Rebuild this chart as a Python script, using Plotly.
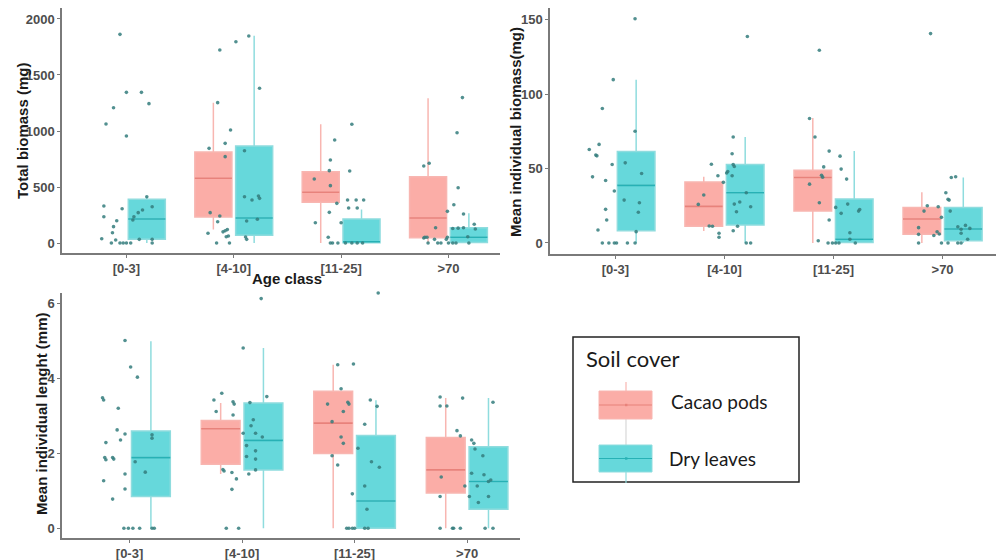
import plotly.graph_objects as go

W, H = 996, 560

CATS = ["[0-3]", "[4-10]", "[11-25]", ">70"]

# Box summaries per soil cover: lower whisker, Q1, median, Q3, upper whisker (None = no box)
tb_cacao = {"lo": [None, 120, 0, 0], "q1": [None, 232, 363, 47], "med": [None, 578, 453, 223],
            "q3": [None, 812, 637, 592], "hi": [None, 1253, 1060, 1292]}
tb_dry = {"lo": [0, 0, 0, 0], "q1": [33, 69, 3, 5], "med": [214, 223, 12, 51],
          "q3": [390, 866, 214, 137], "hi": [413, 1851, 300, 265]}

mb_cacao = {"lo": [None, 8, 0, 0], "q1": [None, 11.2, 21.4, 5.8], "med": [None, 24.6, 44, 16.1],
            "q3": [None, 40.9, 48.9, 23.9], "hi": [None, 44.4, 84, 34]}
mb_dry = {"lo": [0, 0, 0, 0], "q1": [8.2, 12.1, 0.3, 1.5], "med": [38.7, 33.7, 2.5, 9.4],
          "q3": [61.5, 52.7, 29.5, 23.9], "hi": [109.7, 71.2, 61.7, 44]}

ml_cacao = {"lo": [None, 1.45, 0, 0], "q1": [None, 1.71, 2.0, 0.94], "med": [None, 2.66, 2.81, 1.56],
            "q3": [None, 2.88, 3.66, 2.43], "hi": [None, 3.35, 4.37, 3.48]}
ml_dry = {"lo": [0, 0, 0, 0], "q1": [0.85, 1.56, 0, 0.51], "med": [1.89, 2.35, 0.73, 1.25],
          "q3": [2.6, 3.35, 2.48, 2.18], "hi": [5.0, 4.82, 3.42, 3.48]}

# Individual samples: (jitter offset within the age class, value)
tb_points = {
    "[0-3]": [(-0.06, 1863), (-0.19, 1063), (-0.12, 1208), (0.0, 1345), (0.14, 1345), (0.21, 1244),
              (0.0, 955), (-0.21, 330), (-0.21, 235), (-0.09, 199), (-0.04, 306), (-0.12, 146),
              (-0.13, 92), (-0.23, 38), (-0.10, 27), (-0.14, 0), (-0.06, 0), (-0.03, 0), (0.0, 0),
              (0.04, 0), (0.06, 205), (0.07, 235), (0.11, 271), (0.15, 295), (0.19, 413),
              (0.24, 324), (0.12, 33), (0.24, 33), (0.24, 0)],
    "[4-10]": [(-0.13, 1723), (0.02, 1797), (0.14, 1848), (-0.15, 1253), (0.24, 1381), (-0.03, 1009),
               (-0.08, 890), (-0.23, 845), (0.10, 824), (-0.08, 771), (0.10, 413), (0.17, 384),
               (0.24, 399), (0.23, 420), (-0.22, 271), (-0.13, 241), (-0.15, 190), (0.12, 196),
               (0.22, 212), (-0.24, 87), (-0.10, 100), (-0.08, 110), (-0.06, 120), (-0.05, 63),
               (-0.07, 56), (0.11, 54), (0.12, 33), (-0.16, 0), (-0.04, 0)],
    "[11-25]": [(0.10, 1060), (-0.06, 920), (-0.10, 741), (-0.11, 646), (0.08, 643), (-0.25, 571),
                (-0.10, 512), (-0.04, 354), (0.06, 384), (0.14, 384), (0.21, 384), (0.07, 313),
                (0.15, 313), (-0.11, 274), (-0.24, 181), (0.0, 181), (-0.12, 51), (-0.08, 0),
                (-0.03, 0), (0.04, 0), (0.10, 0), (0.15, 0), (0.20, 0), (-0.10, 0)],
    ">70": [(0.13, 1298), (0.08, 985), (0.09, 494), (-0.23, 688), (-0.18, 712), (0.05, 342),
            (-0.01, 283), (0.14, 259), (-0.12, 137), (0.04, 130), (0.09, 133), (0.14, 137),
            (0.25, 125), (0.24, 167), (-0.23, 45), (-0.22, 52), (-0.20, 52), (-0.13, 33),
            (-0.01, 51), (0.18, 56), (-0.19, 0), (-0.10, 0), (-0.07, 0), (0.0, 0), (0.04, 0),
            (0.07, 0), (0.19, 0), (-0.02, 33)],
}

mb_points = {
    "[0-3]": [(0.18, 150.6), (-0.02, 109.7), (-0.12, 90.3), (-0.24, 62.8), (-0.15, 66.2), (-0.18, 59),
              (-0.17, 58.5), (-0.21, 44.4), (-0.03, 52.7), (-0.09, 42), (-0.01, 34.9), (0.09, 53.8),
              (0.18, 75), (0.24, 46.7), (0.08, 28.8), (-0.09, 22.6), (-0.08, 15.4), (0.22, 27),
              (0.21, 20.6), (-0.16, 8.7), (0.19, 7.6), (-0.12, 0), (-0.06, 0), (-0.01, 0),
              (0.01, 0), (0.11, 0), (0.18, 0)],
    "[4-10]": [(0.21, 138.7), (0.08, 71.2), (0.07, 59.9), (0.08, 52.7), (0.09, 51.4), (0.02, 47),
               (0.03, 48), (-0.12, 52.9), (-0.06, 45.1), (0.07, 45.1), (-0.01, 40.7), (-0.19, 32.2),
               (-0.24, 25.9), (0.20, 33.7), (0.09, 26.1), (0.14, 27.5), (0.24, 24.3), (0.11, 21),
               (-0.14, 11.4), (-0.11, 11.2), (0.12, 11.2), (0.08, 8.2), (-0.05, 6.5), (-0.05, 3.8),
               (0.20, 0), (0.24, 0)],
    "[11-25]": [(-0.13, 129.4), (-0.22, 83.6), (-0.17, 71.2), (-0.04, 61.7), (0.06, 58.3),
                (-0.09, 51.1), (0.07, 49.6), (-0.10, 44.2), (-0.11, 45.5), (0.12, 42.9),
                (-0.22, 39.5), (-0.13, 27), (0.13, 26.1), (0.02, 23.9), (0.23, 21.4), (0.24, 22.5),
                (0.07, 19.9), (-0.04, 15.4), (0.15, 6.9), (-0.14, 1.5), (0.15, 2.5), (-0.05, 0),
                (-0.01, 0), (0.02, 0), (0.05, 0), (0.20, 0)],
    ">70": [(-0.11, 140.6), (0.03, 33.7), (0.06, 28.8), (0.05, 29.3), (0.07, 21.4), (0.08, 44),
            (0.12, 44.5), (-0.14, 25), (-0.17, 21.4), (-0.04, 24.3), (-0.01, 17.2), (-0.22, 10.3),
            (-0.22, 5.8), (-0.08, 5), (-0.05, 7.5), (-0.03, 6), (0.17, 6.5), (0.17, 9.2),
            (0.14, 10.9), (0.21, 11.8), (0.25, 9.8), (0.23, 2.5), (-0.22, 0), (-0.01, 0),
            (0.05, 0), (0.14, 0), (0.17, 0)],
}

ml_points = {
    "[0-3]": [(-0.04, 5.02), (0.01, 4.31), (0.07, 4.04), (-0.24, 3.49), (-0.23, 3.43), (-0.10, 3.21),
              (-0.11, 2.63), (-0.04, 2.52), (-0.08, 2.36), (-0.21, 2.29), (0.20, 2.5), (0.20, 2.41),
              (-0.22, 1.89), (-0.21, 1.83), (-0.15, 1.89), (-0.14, 1.85), (0.05, 1.78),
              (-0.04, 1.45), (0.14, 1.5), (-0.23, 1.27), (-0.04, 1.05), (-0.15, 0.78), (-0.05, 0),
              (-0.01, 0), (0.03, 0), (0.09, 0), (0.20, 0), (0.22, 0)],
    "[4-10]": [(0.17, 6.14), (0.01, 4.82), (-0.18, 3.61), (-0.25, 3.43), (-0.08, 3.38), (-0.07, 3.32),
               (0.22, 3.52), (-0.23, 3.12), (-0.08, 3.03), (0.07, 3.36), (0.10, 2.9), (0.08, 2.74),
               (0.01, 2.54), (0.12, 2.54), (0.18, 2.44), (0.04, 2.21), (0.12, 2.07), (0.04, 1.92),
               (0.12, 1.85), (0.12, 1.56), (-0.17, 1.57), (-0.16, 1.53), (-0.09, 1.49), (0.06, 1.45),
               (-0.05, 1.32), (-0.09, 1.04), (-0.14, 0), (-0.03, 0)],
    "[11-25]": [(0.21, 6.29), (-0.15, 4.37), (-0.01, 4.39), (-0.12, 3.73), (-0.24, 3.32),
                (-0.06, 3.37), (-0.05, 3.32), (0.14, 3.43), (0.20, 3.26), (-0.10, 3.12),
                (-0.20, 2.85), (0.09, 2.78), (-0.12, 2.44), (-0.10, 2.27), (0.03, 2.14),
                (-0.20, 1.94), (-0.15, 1.69), (0.15, 1.78), (0.22, 1.63), (0.09, 1.13),
                (-0.02, 0.92), (0.11, 0.51), (-0.07, 0), (-0.05, 0), (-0.02, 0), (0.0, 0),
                (0.09, 0), (0.12, 0)],
    ">70": [(-0.24, 3.51), (-0.24, 3.27), (-0.18, 3.27), (-0.04, 3.48), (0.23, 3.37), (-0.09, 2.61),
            (-0.06, 2.47), (0.04, 2.36), (0.06, 2.27), (0.07, 2.12), (0.14, 1.94), (0.04, 1.47),
            (0.15, 1.43), (-0.23, 1.37), (0.21, 1.29), (0.19, 1.25), (-0.02, 1.13), (0.09, 1.13),
            (0.02, 0.85), (0.19, 0.85), (-0.24, 0.85), (0.10, 0.69), (-0.24, 0), (-0.13, 0),
            (-0.12, 0), (-0.06, 0), (0.16, 0), (0.23, 0)],
}

# Styling
DODGE = 0.19        # half distance between the two soil-cover boxes
BOX_W = 0.345       # box width in category units
STYLE = {
    "Cacao pods": {"fill": "#fbada7", "edge": "#f8b6b1", "median": "#e8827b"},
    "Dry leaves": {"fill": "#66d8db", "edge": "#8fdcde", "median": "#27b1b5"},
}
POINT_COLOR = "rgba(52,125,125,0.85)"
TICK_FONT = dict(family="Liberation Sans, Arial, sans-serif", size=13, color="#4d4d4d", weight="bold")
AXIS_LINE = "#7a7a7a"

fig = go.Figure()


def add_boxes(stats, group, sign, xa, ya):
    st = STYLE[group]
    idx = [i for i, v in enumerate(stats["q1"]) if v is not None]
    pos = [i + sign * DODGE for i in idx]
    fig.add_trace(go.Box(
        x=pos,
        lowerfence=[stats["lo"][i] for i in idx],
        q1=[stats["q1"][i] for i in idx],
        median=[stats["med"][i] for i in idx],
        q3=[stats["q3"][i] for i in idx],
        upperfence=[stats["hi"][i] for i in idx],
        width=BOX_W, whiskerwidth=0, boxpoints=False,
        fillcolor=st["fill"], line=dict(color=st["edge"], width=1.5),
        name=group, showlegend=False, hoverinfo="skip",
        xaxis=xa, yaxis=ya,
    ))
    # darker median bar drawn over each box
    mx, my = [], []
    for i, p in zip(idx, pos):
        mx += [p - BOX_W / 2, p + BOX_W / 2, None]
        my += [stats["med"][i], stats["med"][i], None]
    fig.add_trace(go.Scatter(x=mx, y=my, mode="lines", line=dict(color=st["median"], width=1.6),
                             showlegend=False, hoverinfo="skip", xaxis=xa, yaxis=ya))


def add_points(points, xa, ya):
    xs, ys = [], []
    for k, cat in enumerate(CATS):
        for off, val in points[cat]:
            xs.append(k + off)
            ys.append(val)
    fig.add_trace(go.Scatter(x=xs, y=ys, mode="markers", cliponaxis=False,
                             marker=dict(color=POINT_COLOR, size=3.6, line=dict(width=0)),
                             showlegend=False, hoverinfo="skip", xaxis=xa, yaxis=ya))


panels = [
    (tb_cacao, tb_dry, tb_points, "x", "y"),
    (mb_cacao, mb_dry, mb_points, "x2", "y2"),
    (ml_cacao, ml_dry, ml_points, "x3", "y3"),
]
for cacao, dry, pts, xa, ya in panels:
    add_boxes(cacao, "Cacao pods", -1, xa, ya)
    add_boxes(dry, "Dry leaves", 1, xa, ya)
    add_points(pts, xa, ya)


def xaxis(x0, x1, rng, anchor):
    return dict(domain=[x0 / W, x1 / W], range=rng, anchor=anchor,
                tickvals=list(range(len(CATS))), ticktext=CATS, tickfont=TICK_FONT,
                showline=True, linecolor=AXIS_LINE, linewidth=1.5,
                ticks="outside", ticklen=3, tickcolor=AXIS_LINE,
                showgrid=False, zeroline=False)


def yaxis(top, bottom, rng, dtick, anchor):
    return dict(domain=[1 - bottom / H, 1 - top / H], range=rng, anchor=anchor, dtick=dtick,
                tick0=0, tickfont=TICK_FONT, showline=True, linecolor=AXIS_LINE, linewidth=1.5,
                ticks="outside", ticklen=3, tickcolor=AXIS_LINE,
                showgrid=False, zeroline=False)


def P(x, y):
    return x / W, 1 - y / H


TITLE_FONT = dict(family="Liberation Sans, Arial, sans-serif", size=15, color="#1a1a1a", weight="bold")
annotations = []
for text, (x, y), angle in [
    ("Total biomass (mg)", (22, 131), -90),
    ("Mean individual biomass(mg)", (515, 132), -90),
    ("Mean individual lenght (mm)", (41, 414), -90),
    ("Age class", (287, 278), 0),
]:
    ax, ay = P(x, y)
    annotations.append(dict(text=text, x=ax, y=ay, xref="paper", yref="paper", showarrow=False,
                            textangle=angle, font=TITLE_FONT, xanchor="center", yanchor="middle"))

# Soil cover key
LEG_FONT = dict(family="Lato, sans-serif", color="#1a1a1a")
for text, (x, y), size in [("Soil cover", (584, 358), 22),
                           ("Cacao pods", (669, 401), 19),
                           ("Dry leaves", (667, 458), 19)]:
    ax, ay = P(x, y)
    annotations.append(dict(text=text, x=ax, y=ay, xref="paper", yref="paper", showarrow=False,
                            font=dict(size=size, **LEG_FONT), xanchor="left", yanchor="middle"))


def rect(x0, y0, x1, y1, **kw):
    a, b = P(x0, y1)
    c, d = P(x1, y0)
    return dict(type="rect", xref="paper", yref="paper", x0=a, y0=b, x1=c, y1=d, **kw)


def seg(x0, y0, x1, y1, color, width):
    a, b = P(x0, y0)
    c, d = P(x1, y1)
    return dict(type="line", xref="paper", yref="paper", x0=a, y0=b, x1=c, y1=d,
                line=dict(color=color, width=width))


shapes = [
    rect(573, 337, 799, 482, line=dict(color="#222222", width=1.5), fillcolor="rgba(0,0,0,0)"),
    seg(626, 382, 626, 391, STYLE["Cacao pods"]["edge"], 1.2),
    seg(626, 419, 626, 445, "#d8d8d8", 1.2),
    seg(626, 472, 626, 483, STYLE["Dry leaves"]["edge"], 1.2),
]
for group, (top, bot) in [("Cacao pods", (391, 419)), ("Dry leaves", (445, 472))]:
    st = STYLE[group]
    shapes.append(rect(599, top, 652, bot, line=dict(color=st["edge"], width=1), fillcolor=st["fill"]))
    mid = (top + bot) / 2
    shapes.append(seg(599, mid, 652, mid, st["median"], 1.2))
    shapes.append(rect(625, mid - 1.2, 627.4, mid + 1.2, line=dict(width=0), fillcolor=st["median"]))

fig.update_layout(
    width=W, height=H, autosize=False,
    margin=dict(l=0, r=0, t=0, b=0),
    paper_bgcolor="white", plot_bgcolor="white",
    showlegend=False,
    xaxis=xaxis(62, 500, [-0.6, 3.48], "y"),
    yaxis=yaxis(8, 253, [-89, 2098], 500, "x"),
    xaxis2=xaxis(550, 996, [-0.6, 3.49], "y2"),
    yaxis2=yaxis(8, 254, [-7.4, 157.8], 50, "x2"),
    xaxis3=xaxis(62, 520, [-0.6, 3.47], "y3"),
    yaxis3=yaxis(293, 538, [-0.26, 6.29], 2, "x3"),
    annotations=annotations,
    shapes=shapes,
)

fig.write_html("out.html")
